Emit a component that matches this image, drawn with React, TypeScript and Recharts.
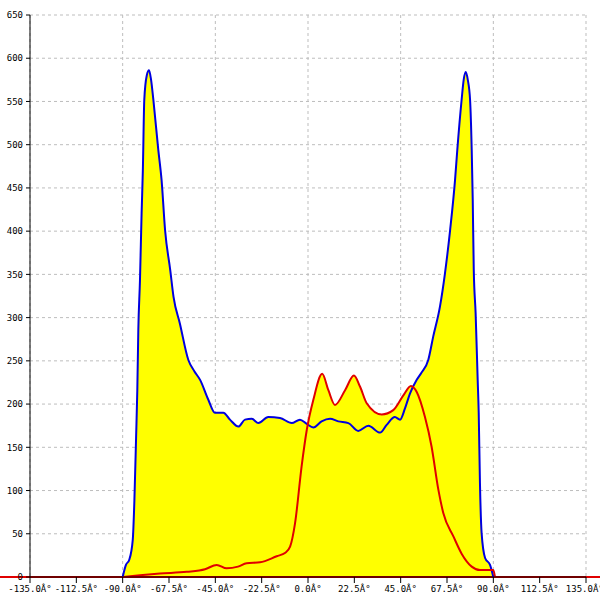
import {
  ComposedChart,
  Area,
  Line,
  XAxis,
  YAxis,
  CartesianGrid,
  ReferenceLine,
} from "recharts";

// blue profile (angle in degrees, value)
const blueDeg = [
  -90, -88.4, -86.8, -85.1, -84.3, -83.5, -82.9, -82.4, -81.6, -80.8, -80.2, -79.5, -78.3, -77.2,
  -76.2, -75.1, -72.7, -71.1, -69.4, -66.9, -65.3, -62.2, -58.1, -55.2, -52.4, -48.4, -45.2,
  -41.1, -37.9, -33.8, -30.6, -27.3, -24.1, -19.3, -13.6, -7.9, -3.9, -0.6, 2.6, 6.6, 10.7, 14.7,
  19.6, 24.4, 29.3, 35, 38.2, 42.2, 44.7, 47.1, 49.5, 52.8, 55, 58.4, 60.8, 64.1, 66.5, 69, 71.4,
  72.5, 74.6, 75.6, 76.6, 77.6, 78.7, 79.5, 80, 80.5, 81.4, 82.4, 82.9, 83.5, 84.3, 86, 88.4, 90,
];
const blueVal = [
  0, 14, 20, 43, 89, 160, 215, 286, 343, 421, 470, 552, 580, 586,
  575, 552, 494, 459, 401, 355, 324, 293, 251, 238, 228, 205, 190,
  190, 182, 174, 182, 183, 178, 185, 184, 178, 182, 177, 173, 180, 183, 180,
  178, 169, 175, 167, 176, 185, 182, 195, 212, 228, 236, 251, 278, 313, 351, 401, 459,
  494, 552, 575, 584, 575, 552, 494, 436, 355, 305, 228, 190, 109, 51, 22, 14, 0,
];

// red profile
const redDeg = [
  -90, -81.6, -71.9, -58.9, -50, -44.3, -39.5, -34, -29.8, -23.3, -15.2, -11, -8.7, -6.3, -3.1,
  -0.6, 2.6, 6.9, 9.9, 13.1, 18, 22.3, 25.3, 28.5, 35.8, 41.4, 46.3, 50, 52.8, 56.8, 60, 63.3,
  65.7, 70.6, 74.6, 79.5, 83.5, 90, 90.8,
];
const redVal = [
  0, 2, 4, 6, 9, 14, 10, 12, 16, 17, 24, 28, 35, 62, 128,
  170, 205, 235, 216, 199, 216, 233, 220, 201, 188, 193, 210, 221, 214, 185, 151, 101,
  74, 47, 27, 12, 8, 8, 0,
];

const xTicks = [-135, -112.5, -90, -67.5, -45, -22.5, 0, 22.5, 45, 67.5, 90, 112.5, 135];
const yTicks = [0, 50, 100, 150, 200, 250, 300, 350, 400, 450, 500, 550, 600, 650];

const blueData = blueDeg.map((d, i) => ({ deg: d, v: blueVal[i] }));
const redData = redDeg.map((d, i) => ({ deg: d, v: redVal[i] }));

const tickFont = { fontSize: 9, fontFamily: "DejaVu Sans Mono", fill: "#000" };

export default function App() {
  return (
    <div style={{ position: "absolute", left: 0, top: 0, background: "#fff" }}>
      <ComposedChart
        width={600}
        height={600}
        margin={{ top: 15, right: 14, left: 0, bottom: 0 }}
      >
        <CartesianGrid stroke="#bdbdbd" strokeDasharray="3 3" />
        <XAxis
          type="number"
          dataKey="deg"
          domain={[-135, 135]}
          ticks={xTicks}
          allowDataOverflow
          height={23}
          tick={tickFont}
          tickSize={6}
          tickMargin={3}
          tickFormatter={(v: number) => `${v.toFixed(1)}Â°`}
          axisLine={{ stroke: "#000" }}
          tickLine={{ stroke: "#000" }}
        />
        <YAxis
          type="number"
          domain={[0, 650]}
          ticks={yTicks}
          width={30}
          tick={tickFont}
          tickSize={4}
          tickMargin={3}
          axisLine={{ stroke: "#000" }}
          tickLine={{ stroke: "#000" }}
        />
        <Area
          data={blueData}
          dataKey="v"
          type="monotone"
          stroke="none"
          fill="#ffff00"
          fillOpacity={1}
          isAnimationActive={false}
        />
        <Area
          data={redData}
          dataKey="v"
          type="monotone"
          stroke="none"
          fill="#ffff00"
          fillOpacity={1}
          isAnimationActive={false}
        />
        <ReferenceLine
          segment={[
            { x: -150, y: 0 },
            { x: 142, y: 0 },
          ]}
          stroke="#e00000"
          strokeWidth={2}
          ifOverflow="visible"
        />
        <Line
          data={blueData}
          dataKey="v"
          type="monotone"
          stroke="#0000e0"
          strokeWidth={2}
          dot={false}
          isAnimationActive={false}
        />
        <Line
          data={redData}
          dataKey="v"
          type="monotone"
          stroke="#e00000"
          strokeWidth={2}
          dot={false}
          isAnimationActive={false}
        />
      </ComposedChart>
    </div>
  );
}
